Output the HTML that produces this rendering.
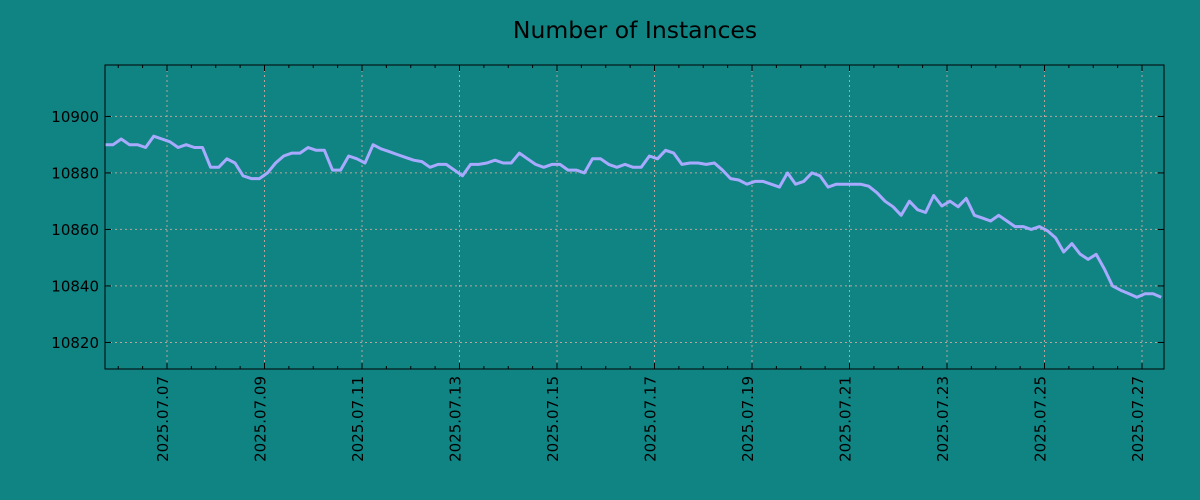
<!DOCTYPE html>
<html><head><meta charset="utf-8"><style>
html,body{margin:0;padding:0;background:#108383;}
svg{display:block;font-family:"DejaVu Sans","Liberation Sans",sans-serif;}
</style></head><body>
<svg id="chart" width="1200" height="500">
<rect width="1200" height="500" fill="#108383"/>
<text x="635" y="38" font-size="23.5" text-anchor="middle" fill="#000">Number of Instances</text>
<g id="grid"></g>
<g id="series"></g>
<g id="axes"></g>
</svg>
<script>
const values = [10890,10890,10892,10890,10890,10889,10893,10892,10891,10889,10890,10889,10889,10882,10882,10885,10883.5,10879,10878,10878,10880,10883.5,10886,10887,10887,10889,10888,10888,10881,10881,10886,10885,10883.5,10890,10888.5,10887.5,10886.5,10885.5,10884.5,10884,10882,10883,10883,10881,10879,10883,10883,
10883.5,10884.5,10883.5,10883.5,10887,10885,10883,10882,10883,10883,10881,10881,10880,10885,10885,10883,10882,10883,10882,10882,10886,10885,10888,10887,10883,10883.5,10883.5,10883,10883.5,10881,10878,10877.5,10876,10877,10877,10876,10875,10880,10876,10877,10880,10879,10875,10876,
10876,10876,10876,10875.3,10873,10870,10868,10865,10870,10867,10866,10872,10868.3,10870,10868,10871,10865,10864,10863,10865,10863,10861,10861,10860,10861,10859.5,10857,10852,10855,10851.3,10849.4,10851.2,10846,10840,10838.5,10837.3,10836,10837.2,10837.2,10836];
const yTicks = [10820,10840,10860,10880,10900];
const xTickLabels = ["2025.07.07","2025.07.09","2025.07.11","2025.07.13","2025.07.15","2025.07.17","2025.07.19","2025.07.21","2025.07.23","2025.07.25","2025.07.27"];
const xTickDays = [2,4,6,8,10,12,14,16,18,20,22]; // days after 2025.07.05
const startDay = 0.7279; // first sample, days after 2025.07.05
const stepDays = 1/6;     // 4-hour sampling

const L=105,R=1164,T=65,B=369;
const dayMin = 0.7282, dayMax = dayMin + (R-L)/48.75;
const vMin = 10810.6, vMax = 10918.2;
const xs = d => L + (d-dayMin)/(dayMax-dayMin)*(R-L);
const ys = v => B - (v-vMin)/(vMax-vMin)*(B-T);
const NS="http://www.w3.org/2000/svg";
function mk(tag, attrs, parent){const e=document.createElementNS(NS,tag);for(const k in attrs)e.setAttribute(k,attrs[k]);parent.appendChild(e);return e;}
const grid=document.getElementById('grid'), series=document.getElementById('series'), axes=document.getElementById('axes');
const gc="#b8a49c";
yTicks.forEach(v=>{
  const y=ys(v);
  const g=mk('line',{x1:L,x2:R,y1:y,y2:y,stroke:gc,'stroke-width':1,'stroke-dasharray':'2,3'},grid);
  
  
  const t1=mk('line',{x1:L,x2:L+6,y1:y,y2:y,stroke:'#000','stroke-width':1},axes);
  
  
  const t2=mk('line',{x1:R-6,x2:R,y1:y,y2:y,stroke:'#000','stroke-width':1},axes);
  
  
  const lb=mk('text',{x:L-6,y:y+5.5,'font-size':15,'text-anchor':'end',fill:'#000'},axes);
  lb.textContent=v;
  
  
});
for(let d=1;d<=22.5;d+=0.5){
  const x=xs(d); if(x<L||x>R)continue;
  const major = xTickDays.includes(d);
  const len = major?6:3;
  const a=mk('line',{x1:x,x2:x,y1:T,y2:T+len,stroke:'#000','stroke-width':1},axes);
  
  
  const b=mk('line',{x1:x,x2:x,y1:B-len,y2:B,stroke:'#000','stroke-width':1},axes);
  
  
}
xTickDays.forEach((d,i)=>{
  const x=xs(d);
  const g=mk('line',{x1:x,x2:x,y1:T,y2:B,stroke:gc,'stroke-width':1,'stroke-dasharray':'2,3'},grid);
  
  
  const lb=mk('text',{x:0,y:0,'font-size':15,'text-anchor':'end',fill:'#000',transform:`translate(${x+1},${B+7}) rotate(-90)`},axes);
  lb.textContent=xTickLabels[i];
  
  
});
const pts=values.map((v,i)=>xs(startDay+i*stepDays).toFixed(1)+','+ys(v).toFixed(1)).join(' ');
const pl=mk('polyline',{points:pts,fill:'none',stroke:'#a8aaff','stroke-width':3,'stroke-linejoin':'round'},series);


const fr=mk('rect',{x:L,y:T,width:R-L,height:B-T,fill:'none',stroke:'#000','stroke-width':1},axes);


</script>
</body></html>
